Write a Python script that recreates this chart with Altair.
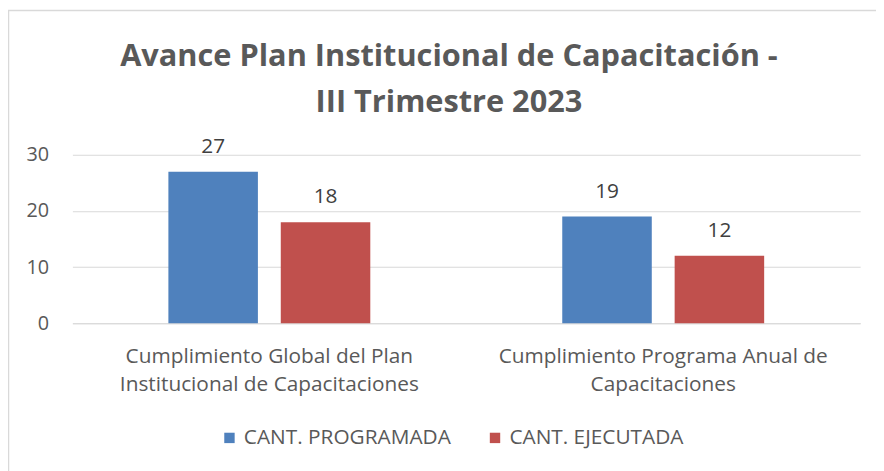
import altair as alt
import pandas as pd

categories = [
    "Cumplimiento Global del Plan\nInstitucional de Capacitaciones",
    "Cumplimiento Programa Anual de\nCapacitaciones",
]
series = ["CANT. PROGRAMADA", "CANT. EJECUTADA"]
programada = [27, 19]
ejecutada = [18, 12]
colors = ["#4f81bd", "#c0504d"]
y_ticks = [0, 10, 20, 30]
title_lines = ["Avance Plan Institucional de Capacitación -", "III Trimestre 2023"]

rows = []
for i, c in enumerate(categories):
    rows.append({"cat": c, "serie": series[0], "valor": programada[i]})
    rows.append({"cat": c, "serie": series[1], "valor": ejecutada[i]})
df = pd.DataFrame(rows)

FONT = "Open Sans"
TXT = "#595959"

x_enc = alt.X(
    "cat:N",
    sort=categories,
    scale=alt.Scale(paddingInner=0, paddingOuter=0),
    axis=alt.Axis(
        title=None,
        labelAngle=0,
        labelExpr="split(datum.label, '\\n')",
        labelFont=FONT,
        labelFontSize=21,
        labelColor=TXT,
        labelPadding=23,
        labelLineHeight=28,
        labelLimit=0,
        ticks=False,
        domain=True,
        domainColor="#d9d9d9",
        domainWidth=1,
        grid=False,
    ),
)
xoff = alt.XOffset(
    "serie:N",
    sort=series,
    scale=alt.Scale(paddingInner=0.2035, paddingOuter=0.854),
)
y_enc = alt.Y(
    "valor:Q",
    scale=alt.Scale(domain=[0, 30], nice=False),
    axis=alt.Axis(
        title=None,
        values=y_ticks,
        labelFont=FONT,
        labelFontSize=20,
        labelColor=TXT,
        labelPadding=24,
        ticks=False,
        domain=False,
        grid=True,
        gridColor="#d9d9d9",
        gridWidth=1,
    ),
)

bars = alt.Chart(df).mark_bar().encode(
    x=x_enc,
    xOffset=xoff,
    y=y_enc,
    color=alt.Color(
        "serie:N",
        sort=series,
        scale=alt.Scale(domain=series, range=colors),
        legend=alt.Legend(
            title=None,
            orient="none",
            legendX=148,
            legendY=275,
            direction="horizontal",
            symbolType="square",
            symbolSize=110,
            symbolStrokeWidth=0,
            labelFont=FONT,
            labelFontSize=21,
            labelColor=TXT,
            labelOffset=4,
            labelLimit=0,
            columnPadding=34,
        ),
    ),
)

labels = alt.Chart(df).mark_text(
    dy=-19, baseline="alphabetic", font=FONT, fontSize=21, color="#404040"
).encode(
    x=alt.X("cat:N", sort=categories),
    xOffset=alt.XOffset("serie:N", sort=series),
    y="valor:Q",
    text="valor:Q",
)

title = alt.Chart(alt.Data(values=[{}])).mark_text(
    font=FONT,
    fontSize=31,
    fontWeight="bold",
    color=TXT,
    align="center",
    baseline="alphabetic",
    lineHeight=47,
).encode(
    x=alt.value(380), y=alt.value(-90), text=alt.value(title_lines)
)

border = alt.Chart(alt.Data(values=[{}])).mark_rect(
    fill=None, stroke="#d9d9d9", strokeWidth=1.5
).encode(
    x=alt.value(-64.5), x2=alt.value(830), y=alt.value(-145.5), y2=alt.value(330)
)

chart = alt.layer(border, title, bars, labels).properties(
    width=795,
    height=170,
    autosize=alt.AutoSizeParams(type="none"),
    padding={"left": 65, "top": 146, "right": 16, "bottom": 147},
).configure_view(stroke=None)

chart.save("out.html", embed_options={"renderer": "svg", "actions": False})
